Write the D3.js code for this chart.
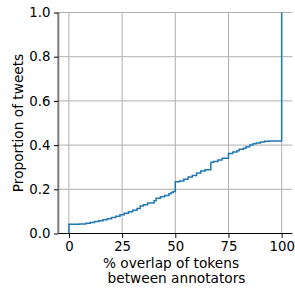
<!DOCTYPE html>
<html>
<head>
<meta charset="utf-8">
<script src="https://cdn.jsdelivr.net/npm/d3@7"></script>
<style>
  body { margin: 0; background: #fff; }
  text { font-family: "DejaVu Sans", sans-serif; }
</style>
</head>
<body>
<svg id="chart" width="295" height="289"></svg>
<script>
// ECDF steps: from overlap value x onward, proportion = y
var overlap = [0, 5, 8, 10, 12, 14, 16, 18, 20, 22, 24, 26, 28, 30, 32, 33.5, 35, 37, 40, 41,
               43, 45, 47, 48, 49, 50, 52, 54, 56, 58, 60, 62, 64, 66.7, 68, 70, 72, 75, 77, 79,
               80, 82, 83.3, 85, 86.5, 88, 90, 92, 94, 100];
var proportion = [0.042, 0.043, 0.046, 0.050, 0.054, 0.058, 0.062, 0.067, 0.072, 0.078, 0.085, 0.092,
                  0.098, 0.105, 0.113, 0.125, 0.130, 0.138, 0.148, 0.160, 0.166, 0.172, 0.180, 0.186,
                  0.190, 0.234, 0.238, 0.245, 0.256, 0.262, 0.274, 0.283, 0.288, 0.322, 0.326, 0.333,
                  0.340, 0.362, 0.369, 0.375, 0.381, 0.386, 0.393, 0.400, 0.406, 0.410, 0.414, 0.417,
                  0.419, 1.0];
var xTicks = [0, 25, 50, 75, 100];
var yTicks = [0, 0.2, 0.4, 0.6, 0.8, 1.0];

var svg = d3.select("#chart"),
    mLeft = 58.3, mRight = 292.3, mTop = 12.5, mBottom = 233.5,
    fs = 13.3, fsLabel = 13.7;

var x = d3.scaleLinear().domain([-5, 105]).range([mLeft, mRight]);
var y = d3.scaleLinear().domain([0, 1]).range([mBottom, mTop]);

// grid
svg.append("g").selectAll("line").data(xTicks).enter().append("line")
    .attr("x1", function (d) { return x(d); }).attr("x2", function (d) { return x(d); })
    .attr("y1", mTop).attr("y2", mBottom)
    .attr("stroke", "#b0b0b0").attr("stroke-width", 1);
svg.append("g").selectAll("line").data(yTicks).enter().append("line")
    .attr("x1", mLeft).attr("x2", mRight)
    .attr("y1", function (d) { return y(d); }).attr("y2", function (d) { return y(d); })
    .attr("stroke", "#b0b0b0").attr("stroke-width", 1);

// ecdf line, starts at 0
var pts = [[overlap[0], 0]].concat(overlap.map(function (d, i) { return [d, proportion[i]]; }));
var line = d3.line()
    .x(function (d) { return x(d[0]); })
    .y(function (d) { return y(d[1]); })
    .curve(d3.curveStepAfter);
svg.append("path").datum(pts)
    .attr("d", line)
    .attr("fill", "none")
    .attr("stroke", "#1f77b4")
    .attr("stroke-width", 1.5);

// axes
var xAxis = svg.append("g").attr("transform", "translate(0," + mBottom + ")")
    .call(d3.axisBottom(x).tickValues(xTicks).tickSize(4.4).tickPadding(3.5).tickFormat(d3.format("d")));
var yAxis = svg.append("g").attr("transform", "translate(" + mLeft + ",0)")
    .call(d3.axisLeft(y).tickValues(yTicks).tickSize(4.4).tickPadding(3.5).tickFormat(d3.format(".1f")));

xAxis.select(".domain").attr("d", "M" + mLeft + ",0H" + mRight).attr("stroke", "#000").attr("stroke-width", 1.2);
yAxis.select(".domain").attr("d", "M0," + mBottom + "V" + mTop).attr("stroke", "#7a7a7a").attr("stroke-width", 2);
xAxis.selectAll(".tick line").attr("stroke", "#000");
yAxis.selectAll(".tick line").attr("stroke", "#000");
svg.selectAll(".tick text").attr("font-family", "DejaVu Sans").attr("font-size", fs).attr("fill", "#000");

// labels
svg.append("text")
    .attr("transform", "translate(23," + ((mTop + mBottom) / 2) + ") rotate(-90)")
    .attr("text-anchor", "middle")
    .attr("font-size", fsLabel)
    .text("Proportion of tweets");

var xl = svg.append("text").attr("text-anchor", "middle").attr("font-size", fsLabel);
xl.append("tspan").attr("x", 171).attr("y", 268).text("% overlap of tokens");
xl.append("tspan").attr("x", 176.5).attr("y", 282.5).text("between annotators");
</script>
</body>
</html>
